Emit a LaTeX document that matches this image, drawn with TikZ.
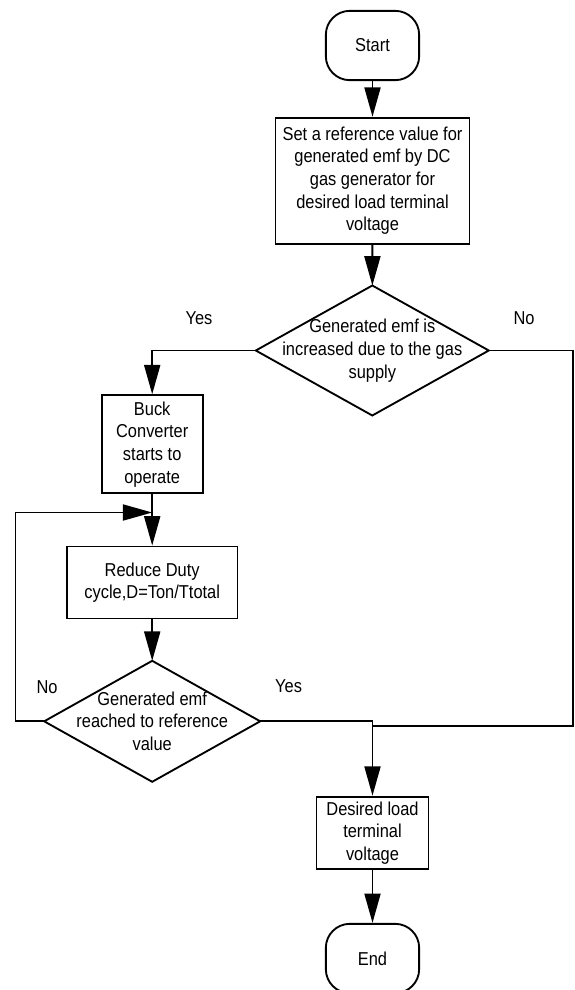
\documentclass[tikz,border=0pt]{standalone}
\usepackage{fontspec}
\setmainfont{Liberation Sans}[FakeStretch=0.88]
\usepackage{tikz}
\usetikzlibrary{arrows.meta,shapes.geometric}
\tikzset{
  connline/.style={draw=black, line width=1.4pt},
  flowarrow/.style={connline, -{Triangle[length=22pt,width=12pt]}},
  lab/.style={align=center, inner sep=0pt, font=\fontsize{14}{17}\selectfont},
  terminal/.style={lab, draw=black, line width=1.4pt, rounded corners=18pt,
    minimum width=70pt, minimum height=52pt},
  process/.style={lab, draw=black, line width=1.4pt},
  decision/.style={diamond, draw=black, line width=1.4pt, inner sep=0pt, outer sep=0pt},
}

\begin{document}
\begin{tikzpicture}[x=0.75pt,y=-0.75pt]
  \useasboundingbox (0,0) rectangle (575,990);

  \node[terminal] (start) at (372.5,45.5) {Start};
  \node[process, minimum width=145.5pt, minimum height=94.5pt] (setref) at (372.5,180.7)
    {Set a reference value for\\generated emf by DC\\gas generator for\\desired load terminal\\voltage};
  \node[decision, minimum width=174.75pt, minimum height=97.5pt] (incr) at (372.3,350.5) {};
  \node[lab] (incrtxt) at (incr) {Generated emf is\\increased due to the gas\\supply};
  \node[process, minimum width=75.75pt, minimum height=73.5pt] (buck) at (152.2,444.2)
    {Buck\\Converter\\starts to\\operate};
  \node[process, minimum width=128pt, minimum height=54pt] (duty) at (152.2,582.5)
    {Reduce Duty\\cycle,D=Ton/Ttotal};
  \node[decision, minimum width=162pt, minimum height=90.75pt] (reach) at (152.2,721.3) {};
  \node[lab] (reachtxt) at (reach) {Generated emf\\reached to reference\\value};
  \node[process, minimum width=84pt, minimum height=54.5pt] (load) at (372.5,833)
    {Desired load\\terminal\\voltage};
  \node[terminal] (end) at (372.5,958.5) {End};

  \node[lab] (yes1) at (199,318) {Yes};
  \node[lab] (no1) at (524,318) {No};
  \node[lab] (no2) at (47,687) {No};
  \node[lab] (yes2) at (288.6,685.7) {Yes};

  \coordinate (rt) at (573,726);
  \coordinate (jn) at (372.5,726);
  \coordinate (lp) at (15.5,512.5);
  \coordinate (mg) at (152.2,512.5);

  \draw[flowarrow] (start) -- (setref);
  \draw[flowarrow] (setref) -- (incr);
  \draw[flowarrow] (incr.west) -| (buck);
  \draw[connline] (incr.east) -| (rt) -- (jn);
  \draw[flowarrow] (buck) -- (duty);
  \draw[flowarrow] (duty) -- (reach);
  \draw[flowarrow] (reach.west) -| (lp) -- (mg);
  \draw[flowarrow] (reach.east) -| (load);
  \draw[flowarrow] (load) -- (end);
\end{tikzpicture}
\end{document}
